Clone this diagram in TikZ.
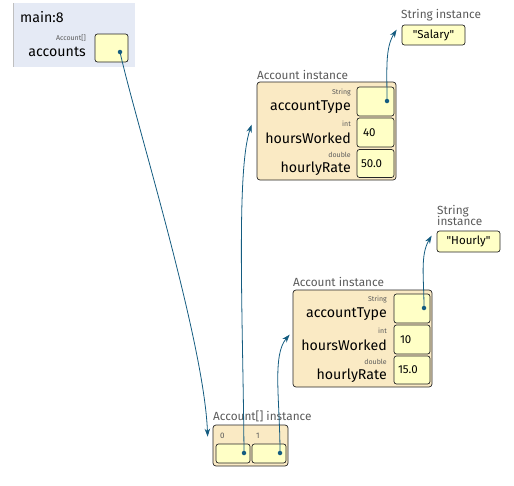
\documentclass[tikz,border=0pt]{standalone}
\usepackage{fontspec}
\setmainfont{Fira Sans}
\usetikzlibrary{arrows.meta, positioning}
\definecolor{framebg}{RGB}{229,234,245}
\definecolor{heapbg}{RGB}{250,234,196}
\definecolor{cellbg}{RGB}{255,255,198}
\definecolor{ptrcol}{RGB}{20,92,128}
\definecolor{lblgray}{RGB}{90,90,90}
\tikzset{
  heapbox/.style={draw=black!85, fill=heapbg, rounded corners=3pt, line width=0.7pt, inner sep=0pt},
  cellbox/.style={draw=black!85, fill=cellbg, rounded corners=2.5pt, line width=0.7pt, inner sep=0pt,
    font=\fontsize{11.5}{13}\selectfont},
  fieldlab/.style={anchor=east, inner sep=0pt, font=\fontsize{14.2}{16}\selectfont},
  typelab/.style={anchor=east, inner sep=0pt, text=lblgray, font=\fontsize{7}{8}\selectfont},
  instlab/.style={anchor=west, inner sep=0pt, text=lblgray, font=\fontsize{11.8}{13}\selectfont, align=left},
  dot/.style={circle, fill=ptrcol, inner sep=0pt, minimum size=4.5pt},
  ptr/.style={draw=ptrcol, line width=0.8pt, -{Stealth[length=8pt, width=5.5pt]}}
}
\begin{document}
\begin{tikzpicture}[x=1pt, y=-1pt]
  \useasboundingbox (0,0) rectangle (514,485);
  % stack frame
  \fill[framebg] (13,3) rectangle (135,67);
  \draw[black!25, line width=0.8pt] (13,3) -- (13,67);
  \node[anchor=west, inner sep=0pt, font=\fontsize{14.2}{16}\selectfont] (frame) at (20,17) {main:8};
  \node[typelab] (acctype) at (86,38) {Account[]};
  \node[fieldlab] (accname) at (86,52) {accounts};
  \node[cellbox, minimum width=33pt, minimum height=28pt] (accptr) at (111.5,48) {};
  \node[dot] (accdot) at (120,52) {};

  % Account[] instance
  \node[instlab] (arrlab) at (213,416) {Account[] instance};
  \node[heapbox, minimum width=75pt, minimum height=41pt] (arr) at (250.5,445.5) {};
  \node[typelab, anchor=west, font=\fontsize{8}{9}\selectfont] (idx0) at (220,436) {0};
  \node[typelab, anchor=west, font=\fontsize{8}{9}\selectfont] (idx1) at (256,436) {1};
  \node[cellbox, minimum width=34pt, minimum height=19pt] (cell0) at (233,453.5) {};
  \node[cellbox, minimum width=34pt, minimum height=19pt] (cell1) at (269,453.5) {};
  \node[dot] (dot0) at (244,453) {};
  \node[dot] (dot1) at (280,453) {};

  % first Account instance
  \node[instlab] (acc1lab) at (257,75) {Account instance};
  \node[heapbox, minimum width=139pt, minimum height=98pt] (acc1) at (326.5,131) {};
  \node[typelab] (t1a) at (351,93) {String};
  \node[fieldlab] (f1a) at (351,107) {accountType};
  \node[cellbox, minimum width=37pt, minimum height=29pt] (v1a) at (375.5,101.5) {};
  \node[typelab] (t1b) at (351,124) {int};
  \node[fieldlab] (f1b) at (351,138) {hoursWorked};
  \node[cellbox, minimum width=37pt, minimum height=29pt, text width=25pt] (v1b) at (375.5,132.5) {40};
  \node[typelab] (t1c) at (351,155) {double};
  \node[fieldlab] (f1c) at (351,169) {hourlyRate};
  \node[cellbox, minimum width=37pt, minimum height=28pt, text width=29pt] (v1c) at (375.5,163.5) {50.0};
  \node[dot] (dot1a) at (387,101) {};

  % second Account instance
  \node[instlab] (acc2lab) at (293,282) {Account instance};
  \node[heapbox, minimum width=139pt, minimum height=97pt] (acc2) at (362.5,338.5) {};
  \node[typelab] (t2a) at (387,300) {String};
  \node[fieldlab] (f2a) at (387,314) {accountType};
  \node[cellbox, minimum width=36pt, minimum height=29pt] (v2a) at (412,308.5) {};
  \node[typelab] (t2b) at (387,331) {int};
  \node[fieldlab] (f2b) at (387,345) {hoursWorked};
  \node[cellbox, minimum width=36pt, minimum height=29pt, text width=24pt] (v2b) at (412,339.5) {10};
  \node[typelab] (t2c) at (387,362) {double};
  \node[fieldlab] (f2c) at (387,376) {hourlyRate};
  \node[cellbox, minimum width=36pt, minimum height=28pt, text width=28pt] (v2c) at (412,370) {15.0};
  \node[dot] (dot2a) at (424,308) {};

  % strings
  \node[instlab] (str1lab) at (401,15) {String instance};
  \node[cellbox, minimum width=63pt, minimum height=20pt] (str1) at (433.5,35) {\textquotedbl Salary\textquotedbl};
  \node[instlab] (str2lab) at (437,215.5) {String\\[-1.5pt]instance};
  \node[cellbox, minimum width=63pt, minimum height=21pt] (str2) at (468.5,241.5) {\textquotedbl Hourly\textquotedbl};

  % references
  \coordinate (arrin) at ([shift={(-5,12)}]arr.north west);
  \coordinate (acc1in) at ([shift={(-5,43)}]acc1.north west);
  \coordinate (acc2in) at ([shift={(-3,45)}]acc2.north west);
  \coordinate (str1in) at ([shift={(-5,5)}]str1.north west);
  \coordinate (str2in) at ([shift={(-5,5)}]str2.north west);
  \draw[ptr] (accdot.center) .. controls (135,120) and (204,340) .. (arrin);
  \draw[ptr] (dot0.center) .. controls (243,320) and (236,170) .. (acc1in);
  \draw[ptr] (dot1.center) .. controls (280,400) and (272,355) .. (acc2in);
  \draw[ptr] (dot1a.center) .. controls (387,70) and (385,48) .. (str1in);
  \draw[ptr] (dot2a.center) .. controls (424,278) and (420,255) .. (str2in);
\end{tikzpicture}
\end{document}
